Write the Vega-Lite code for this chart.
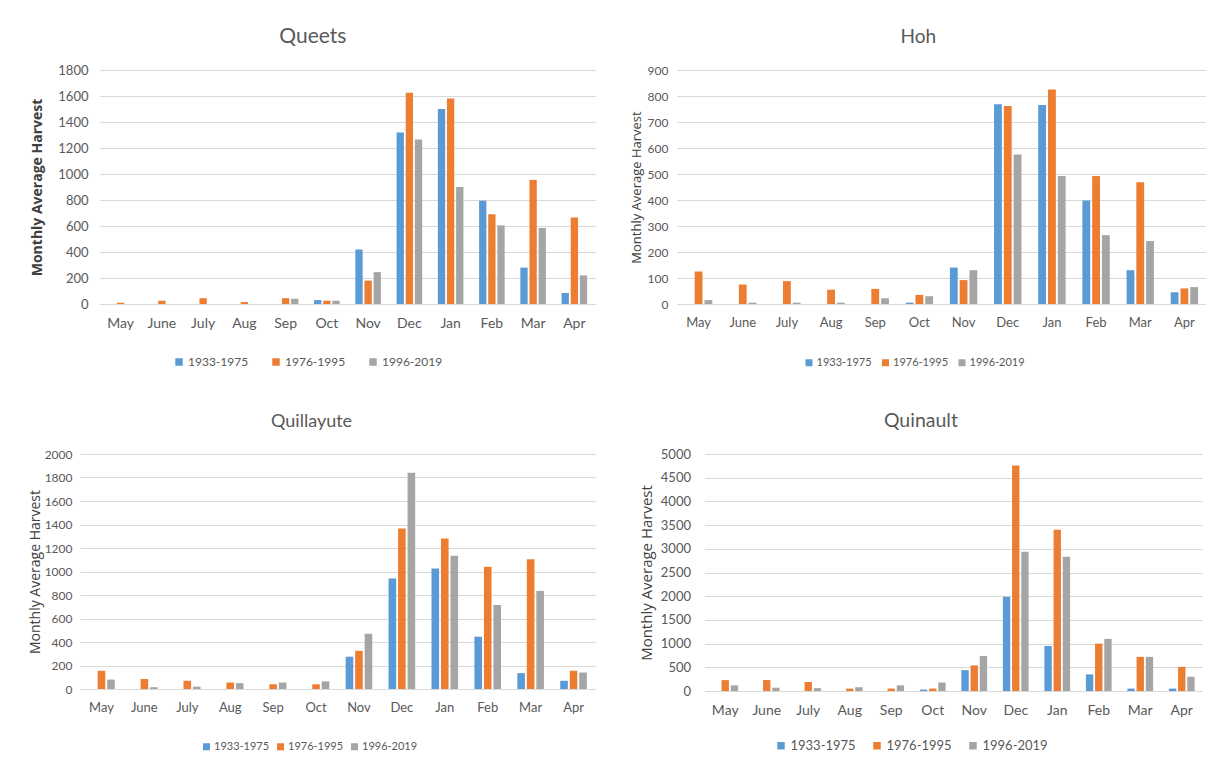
{
  "$schema": "https://vega.github.io/schema/vega-lite/v6.json",
  "background": "white",
  "padding": {"left": 0, "top": 26, "right": 0, "bottom": 0},
  "config": {
    "font": "Lato",
    "view": {"stroke": null},
    "bar": {"stroke": null},
    "axisX": {"grid": false, "ticks": false, "domainColor": "#d9d9d9", "domainWidth": 1, "labelColor": "#595959", "labelFontSize": 14, "labelPadding": 12, "labelAngle": 0, "title": null},
    "axisY": {"domain": false, "ticks": false, "format": "d", "gridColor": "#d9d9d9", "gridWidth": 1, "labelColor": "#595959", "labelFontSize": 13, "labelPadding": 12, "titleColor": "#404040", "titleFont": "Open Sans", "titleFontSize": 14, "titleFontWeight": "bold", "titlePadding": 13},
    "legend": {"orient": "none", "direction": "horizontal", "title": null, "symbolType": "square", "symbolSize": 56, "symbolStrokeWidth": 0, "labelColor": "#595959", "labelFontSize": 12, "labelOffset": 3, "columnPadding": 21},
    "title": {"color": "#595959", "fontSize": 20, "fontWeight": "normal", "font": "Lato", "anchor": "middle", "frame": "bounds", "offset": 17}
  },
  "datasets": {
    "queets": [
      {"month": "May", "period": "1933-1975", "harvest": 0}, {"month": "May", "period": "1976-1995", "harvest": 10}, {"month": "May", "period": "1996-2019", "harvest": 0},
      {"month": "June", "period": "1933-1975", "harvest": 0}, {"month": "June", "period": "1976-1995", "harvest": 25}, {"month": "June", "period": "1996-2019", "harvest": 0},
      {"month": "July", "period": "1933-1975", "harvest": 0}, {"month": "July", "period": "1976-1995", "harvest": 45}, {"month": "July", "period": "1996-2019", "harvest": 0},
      {"month": "Aug", "period": "1933-1975", "harvest": 0}, {"month": "Aug", "period": "1976-1995", "harvest": 15}, {"month": "Aug", "period": "1996-2019", "harvest": 0},
      {"month": "Sep", "period": "1933-1975", "harvest": 0}, {"month": "Sep", "period": "1976-1995", "harvest": 45}, {"month": "Sep", "period": "1996-2019", "harvest": 40},
      {"month": "Oct", "period": "1933-1975", "harvest": 30}, {"month": "Oct", "period": "1976-1995", "harvest": 25}, {"month": "Oct", "period": "1996-2019", "harvest": 25},
      {"month": "Nov", "period": "1933-1975", "harvest": 420}, {"month": "Nov", "period": "1976-1995", "harvest": 180}, {"month": "Nov", "period": "1996-2019", "harvest": 245},
      {"month": "Dec", "period": "1933-1975", "harvest": 1320}, {"month": "Dec", "period": "1976-1995", "harvest": 1625}, {"month": "Dec", "period": "1996-2019", "harvest": 1265},
      {"month": "Jan", "period": "1933-1975", "harvest": 1500}, {"month": "Jan", "period": "1976-1995", "harvest": 1580}, {"month": "Jan", "period": "1996-2019", "harvest": 900},
      {"month": "Feb", "period": "1933-1975", "harvest": 795}, {"month": "Feb", "period": "1976-1995", "harvest": 690}, {"month": "Feb", "period": "1996-2019", "harvest": 605},
      {"month": "Mar", "period": "1933-1975", "harvest": 280}, {"month": "Mar", "period": "1976-1995", "harvest": 955}, {"month": "Mar", "period": "1996-2019", "harvest": 585},
      {"month": "Apr", "period": "1933-1975", "harvest": 85}, {"month": "Apr", "period": "1976-1995", "harvest": 665}, {"month": "Apr", "period": "1996-2019", "harvest": 220}
    ],
    "hoh": [
      {"month": "May", "period": "1933-1975", "harvest": 0}, {"month": "May", "period": "1976-1995", "harvest": 125}, {"month": "May", "period": "1996-2019", "harvest": 15},
      {"month": "June", "period": "1933-1975", "harvest": 0}, {"month": "June", "period": "1976-1995", "harvest": 75}, {"month": "June", "period": "1996-2019", "harvest": 5},
      {"month": "July", "period": "1933-1975", "harvest": 0}, {"month": "July", "period": "1976-1995", "harvest": 88}, {"month": "July", "period": "1996-2019", "harvest": 5},
      {"month": "Aug", "period": "1933-1975", "harvest": 0}, {"month": "Aug", "period": "1976-1995", "harvest": 55}, {"month": "Aug", "period": "1996-2019", "harvest": 5},
      {"month": "Sep", "period": "1933-1975", "harvest": 0}, {"month": "Sep", "period": "1976-1995", "harvest": 58}, {"month": "Sep", "period": "1996-2019", "harvest": 22},
      {"month": "Oct", "period": "1933-1975", "harvest": 5}, {"month": "Oct", "period": "1976-1995", "harvest": 35}, {"month": "Oct", "period": "1996-2019", "harvest": 30},
      {"month": "Nov", "period": "1933-1975", "harvest": 140}, {"month": "Nov", "period": "1976-1995", "harvest": 92}, {"month": "Nov", "period": "1996-2019", "harvest": 130},
      {"month": "Dec", "period": "1933-1975", "harvest": 768}, {"month": "Dec", "period": "1976-1995", "harvest": 762}, {"month": "Dec", "period": "1996-2019", "harvest": 575},
      {"month": "Jan", "period": "1933-1975", "harvest": 765}, {"month": "Jan", "period": "1976-1995", "harvest": 825}, {"month": "Jan", "period": "1996-2019", "harvest": 492},
      {"month": "Feb", "period": "1933-1975", "harvest": 398}, {"month": "Feb", "period": "1976-1995", "harvest": 492}, {"month": "Feb", "period": "1996-2019", "harvest": 265},
      {"month": "Mar", "period": "1933-1975", "harvest": 130}, {"month": "Mar", "period": "1976-1995", "harvest": 468}, {"month": "Mar", "period": "1996-2019", "harvest": 242},
      {"month": "Apr", "period": "1933-1975", "harvest": 45}, {"month": "Apr", "period": "1976-1995", "harvest": 60}, {"month": "Apr", "period": "1996-2019", "harvest": 65}
    ],
    "quillayute": [
      {"month": "May", "period": "1933-1975", "harvest": 0}, {"month": "May", "period": "1976-1995", "harvest": 155}, {"month": "May", "period": "1996-2019", "harvest": 80},
      {"month": "June", "period": "1933-1975", "harvest": 0}, {"month": "June", "period": "1976-1995", "harvest": 85}, {"month": "June", "period": "1996-2019", "harvest": 15},
      {"month": "July", "period": "1933-1975", "harvest": 0}, {"month": "July", "period": "1976-1995", "harvest": 70}, {"month": "July", "period": "1996-2019", "harvest": 20},
      {"month": "Aug", "period": "1933-1975", "harvest": 0}, {"month": "Aug", "period": "1976-1995", "harvest": 55}, {"month": "Aug", "period": "1996-2019", "harvest": 50},
      {"month": "Sep", "period": "1933-1975", "harvest": 0}, {"month": "Sep", "period": "1976-1995", "harvest": 40}, {"month": "Sep", "period": "1996-2019", "harvest": 55},
      {"month": "Oct", "period": "1933-1975", "harvest": 0}, {"month": "Oct", "period": "1976-1995", "harvest": 40}, {"month": "Oct", "period": "1996-2019", "harvest": 65},
      {"month": "Nov", "period": "1933-1975", "harvest": 275}, {"month": "Nov", "period": "1976-1995", "harvest": 325}, {"month": "Nov", "period": "1996-2019", "harvest": 470},
      {"month": "Dec", "period": "1933-1975", "harvest": 940}, {"month": "Dec", "period": "1976-1995", "harvest": 1365}, {"month": "Dec", "period": "1996-2019", "harvest": 1840},
      {"month": "Jan", "period": "1933-1975", "harvest": 1025}, {"month": "Jan", "period": "1976-1995", "harvest": 1280}, {"month": "Jan", "period": "1996-2019", "harvest": 1135},
      {"month": "Feb", "period": "1933-1975", "harvest": 445}, {"month": "Feb", "period": "1976-1995", "harvest": 1040}, {"month": "Feb", "period": "1996-2019", "harvest": 715},
      {"month": "Mar", "period": "1933-1975", "harvest": 135}, {"month": "Mar", "period": "1976-1995", "harvest": 1105}, {"month": "Mar", "period": "1996-2019", "harvest": 835},
      {"month": "Apr", "period": "1933-1975", "harvest": 70}, {"month": "Apr", "period": "1976-1995", "harvest": 155}, {"month": "Apr", "period": "1996-2019", "harvest": 140}
    ],
    "quinault": [
      {"month": "May", "period": "1933-1975", "harvest": 0}, {"month": "May", "period": "1976-1995", "harvest": 230}, {"month": "May", "period": "1996-2019", "harvest": 120},
      {"month": "June", "period": "1933-1975", "harvest": 0}, {"month": "June", "period": "1976-1995", "harvest": 230}, {"month": "June", "period": "1996-2019", "harvest": 70},
      {"month": "July", "period": "1933-1975", "harvest": 0}, {"month": "July", "period": "1976-1995", "harvest": 190}, {"month": "July", "period": "1996-2019", "harvest": 60},
      {"month": "Aug", "period": "1933-1975", "harvest": 0}, {"month": "Aug", "period": "1976-1995", "harvest": 50}, {"month": "Aug", "period": "1996-2019", "harvest": 80},
      {"month": "Sep", "period": "1933-1975", "harvest": 0}, {"month": "Sep", "period": "1976-1995", "harvest": 50}, {"month": "Sep", "period": "1996-2019", "harvest": 120},
      {"month": "Oct", "period": "1933-1975", "harvest": 30}, {"month": "Oct", "period": "1976-1995", "harvest": 50}, {"month": "Oct", "period": "1996-2019", "harvest": 180},
      {"month": "Nov", "period": "1933-1975", "harvest": 440}, {"month": "Nov", "period": "1976-1995", "harvest": 540}, {"month": "Nov", "period": "1996-2019", "harvest": 740},
      {"month": "Dec", "period": "1933-1975", "harvest": 1990}, {"month": "Dec", "period": "1976-1995", "harvest": 4760}, {"month": "Dec", "period": "1996-2019", "harvest": 2940},
      {"month": "Jan", "period": "1933-1975", "harvest": 950}, {"month": "Jan", "period": "1976-1995", "harvest": 3400}, {"month": "Jan", "period": "1996-2019", "harvest": 2830},
      {"month": "Feb", "period": "1933-1975", "harvest": 350}, {"month": "Feb", "period": "1976-1995", "harvest": 1000}, {"month": "Feb", "period": "1996-2019", "harvest": 1100},
      {"month": "Mar", "period": "1933-1975", "harvest": 50}, {"month": "Mar", "period": "1976-1995", "harvest": 720}, {"month": "Mar", "period": "1996-2019", "harvest": 720},
      {"month": "Apr", "period": "1933-1975", "harvest": 50}, {"month": "Apr", "period": "1976-1995", "harvest": 510}, {"month": "Apr", "period": "1996-2019", "harvest": 300}
    ]
  },
  "spacing": 42,
  "resolve": {"scale": {"y": "independent", "color": "independent", "x": "independent", "xOffset": "independent"}, "legend": {"color": "independent"}},
  "vconcat": [
    {
      "spacing": 0,
      "resolve": {"scale": {"y": "independent", "color": "independent", "x": "independent", "xOffset": "independent"}, "legend": {"color": "independent"}},
      "hconcat": [
        {"width": 30, "height": 1, "data": {"values": []}, "mark": {"type": "point"}, "encoding": {}, "view": {"fill": "white", "stroke": null}},
        {
          "spacing": 34.5,
          "resolve": {"scale": {"y": "independent", "color": "independent", "x": "independent", "xOffset": "independent"}, "legend": {"color": "independent"}},
          "hconcat": [
            {
              "title": {"text": "Queets", "fontSize": 21},
              "width": 495, "height": 234,
              "data": {"name": "queets"},
              "mark": {"type": "bar"},
              "encoding": {
                "x": {"field": "month", "type": "ordinal", "sort": ["May","June","July","Aug","Sep","Oct","Nov","Dec","Jan","Feb","Mar","Apr"], "scale": {"paddingInner": 0.38, "paddingOuter": 0.19}},
                "xOffset": {"field": "period", "type": "nominal", "scale": {"paddingInner": 0.2, "paddingOuter": 0}},
                "y": {"field": "harvest", "type": "quantitative", "scale": {"domain": [0, 1800], "nice": false}, "axis": {"values": [0,200,400,600,800,1000,1200,1400,1600,1800], "title": "Monthly Average Harvest"}},
                "color": {"field": "period", "type": "nominal", "scale": {"domain": ["1933-1975","1976-1995","1996-2019"], "range": ["#5b9bd5","#ed7d31","#a5a5a5"]}, "legend": {"legendX": 73, "legendY": 286}}
              }
            },
            {
              "title": {"text": "Hoh", "fontSize": 19},
              "width": 530, "height": 234,
              "data": {"name": "hoh"},
              "mark": {"type": "bar"},
              "encoding": {
                "x": {"field": "month", "type": "ordinal", "sort": ["May","June","July","Aug","Sep","Oct","Nov","Dec","Jan","Feb","Mar","Apr"], "scale": {"paddingInner": 0.38, "paddingOuter": 0.19}, "axis": {"labelFontSize": 13}},
                "xOffset": {"field": "period", "type": "nominal", "scale": {"paddingInner": 0.2, "paddingOuter": 0}},
                "y": {"field": "harvest", "type": "quantitative", "scale": {"domain": [0, 900], "nice": false}, "axis": {"values": [0,100,200,300,400,500,600,700,800,900], "title": "Monthly Average Harvest", "labelFontSize": 12, "labelPadding": 8.5, "titlePadding": 4, "titleFontSize": 13, "titleFontWeight": "normal"}},
                "color": {"field": "period", "type": "nominal", "scale": {"domain": ["1933-1975","1976-1995","1996-2019"], "range": ["#5b9bd5","#ed7d31","#a5a5a5"]}, "legend": {"legendX": 127, "legendY": 287, "labelFontSize": 11, "labelOffset": 2, "symbolSize": 49, "columnPadding": 7.5}}
              }
            }
          ]
        }
      ]
    },
    {
      "spacing": 0,
      "resolve": {"scale": {"y": "independent", "color": "independent", "x": "independent", "xOffset": "independent"}, "legend": {"color": "independent"}},
      "hconcat": [
        {"width": 28, "height": 1, "data": {"values": []}, "mark": {"type": "point"}, "encoding": {}, "view": {"fill": "white", "stroke": null}},
        {
          "spacing": 43.5,
          "resolve": {"scale": {"y": "independent", "color": "independent", "x": "independent", "xOffset": "independent"}, "legend": {"color": "independent"}},
          "hconcat": [
            {
              "title": {"text": "Quillayute", "fontSize": 18},
              "width": 515, "height": 235,
              "data": {"name": "quillayute"},
              "mark": {"type": "bar"},
              "encoding": {
                "x": {"field": "month", "type": "ordinal", "sort": ["May","June","July","Aug","Sep","Oct","Nov","Dec","Jan","Feb","Mar","Apr"], "scale": {"paddingInner": 0.38, "paddingOuter": 0.19}, "axis": {"labelFontSize": 13}},
                "xOffset": {"field": "period", "type": "nominal", "scale": {"paddingInner": 0.2, "paddingOuter": 0}},
                "y": {"field": "harvest", "type": "quantitative", "scale": {"domain": [0, 2000], "nice": false}, "axis": {"values": [0,200,400,600,800,1000,1200,1400,1600,1800,2000], "title": "Monthly Average Harvest", "labelFontSize": 12, "labelPadding": 8, "titlePadding": 2, "titleFontSize": 14, "titleFontWeight": "normal"}},
                "color": {"field": "period", "type": "nominal", "scale": {"domain": ["1933-1975","1976-1995","1996-2019"], "range": ["#5b9bd5","#ed7d31","#a5a5a5"]}, "legend": {"legendX": 121, "legendY": 287, "labelFontSize": 11, "labelOffset": 2, "symbolSize": 49, "columnPadding": 5}}
              }
            },
            {
              "title": {"text": "Quinault", "fontSize": 19.5},
              "width": 498, "height": 237,
              "data": {"name": "quinault"},
              "mark": {"type": "bar"},
              "encoding": {
                "x": {"field": "month", "type": "ordinal", "sort": ["May","June","July","Aug","Sep","Oct","Nov","Dec","Jan","Feb","Mar","Apr"], "scale": {"paddingInner": 0.38, "paddingOuter": 0.19}},
                "xOffset": {"field": "period", "type": "nominal", "scale": {"paddingInner": 0.2, "paddingOuter": 0}},
                "y": {"field": "harvest", "type": "quantitative", "scale": {"domain": [0, 5000], "nice": false}, "axis": {"values": [0,500,1000,1500,2000,2500,3000,3500,4000,4500,5000], "title": "Monthly Average Harvest", "labelPadding": 14, "titlePadding": 6, "titleFontSize": 15, "titleFontWeight": "normal"}},
                "color": {"field": "period", "type": "nominal", "scale": {"domain": ["1933-1975","1976-1995","1996-2019"], "range": ["#5b9bd5","#ed7d31","#a5a5a5"]}, "legend": {"legendX": 70, "legendY": 285, "labelFontSize": 13, "columnPadding": 14}}
              }
            }
          ]
        }
      ]
    }
  ]
}
